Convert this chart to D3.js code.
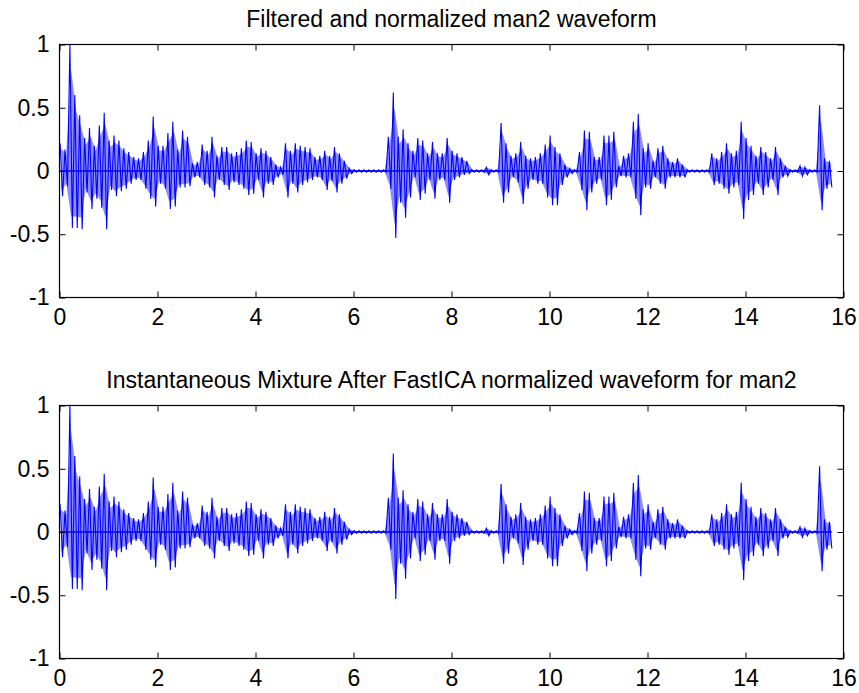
<!DOCTYPE html>
<html>
<head>
<meta charset="utf-8">
<script src="https://cdn.jsdelivr.net/npm/d3@7"></script>
<style>
  html, body { margin: 0; padding: 0; background: #fff; }
  svg { display: block; }
  text { font-family: "Liberation Sans", Arial, Helvetica, sans-serif; fill: #000; }
</style>
</head>
<body>
<svg id="chart" width="859" height="693"></svg>
<script>
// ---- data ----
const titles = [
  "Filtered and normalized man2 waveform",
  "Instantaneous Mixture After FastICA normalized waveform for man2"
];
const xTicks = [0, 2, 4, 6, 8, 10, 12, 14, 16];
const yTicks = [-1, -0.5, 0, 0.5, 1];
const yTickLabels = ["-1", "-0.5", "0", "0.5", "1"];
const binSeconds = 0.1; // each envelope bin covers 0.1 s
// upper envelope per 0.1 s bin (0.0 .. 15.7 s)
const envHigh = [
  0.22, 0.17, 1.00, 0.60, 0.44, 0.26, 0.34, 0.20, 0.36, 0.46,
  0.24, 0.28, 0.24, 0.18, 0.15, 0.11, 0.10, 0.15, 0.24, 0.43,
  0.20, 0.20, 0.30, 0.39, 0.17, 0.32, 0.27, 0.06, 0.07, 0.21,
  0.16, 0.27, 0.12, 0.19, 0.19, 0.14, 0.15, 0.18, 0.24, 0.23,
  0.14, 0.18, 0.16, 0.11, 0.05, 0.03, 0.22, 0.16, 0.22, 0.20,
  0.19, 0.18, 0.11, 0.12, 0.16, 0.12, 0.19, 0.14, 0.08, 0.02,
  0.01, 0.01, 0.01, 0.01, 0.01, 0.01, 0.01, 0.27, 0.62, 0.27,
  0.33, 0.22, 0.16, 0.26, 0.24, 0.14, 0.23, 0.14, 0.14, 0.26,
  0.16, 0.14, 0.11, 0.08, 0.01, 0.01, 0.01, 0.03, 0.01, 0.01,
  0.38, 0.22, 0.12, 0.14, 0.23, 0.12, 0.10, 0.11, 0.14, 0.21,
  0.28, 0.19, 0.14, 0.05, 0.02, 0.01, 0.15, 0.32, 0.31, 0.11,
  0.11, 0.28, 0.28, 0.31, 0.04, 0.12, 0.14, 0.39, 0.45, 0.18,
  0.22, 0.08, 0.18, 0.20, 0.10, 0.07, 0.10, 0.05, 0.01, 0.01,
  0.01, 0.01, 0.01, 0.14, 0.10, 0.15, 0.22, 0.14, 0.16, 0.39,
  0.26, 0.20, 0.12, 0.19, 0.15, 0.10, 0.19, 0.10, 0.04, 0.01,
  0.01, 0.04, 0.03, 0.01, 0.01, 0.52, 0.10, 0.08
];
// lower envelope per 0.1 s bin
const envLow = [
  -0.20, -0.12, -0.45, -0.45, -0.46, -0.17, -0.30, -0.22, -0.29, -0.46,
  -0.15, -0.20, -0.16, -0.14, -0.10, -0.07, -0.07, -0.14, -0.22, -0.28,
  -0.10, -0.14, -0.30, -0.28, -0.13, -0.13, -0.12, -0.05, -0.05, -0.11,
  -0.13, -0.21, -0.07, -0.11, -0.15, -0.09, -0.11, -0.14, -0.19, -0.18,
  -0.07, -0.21, -0.10, -0.11, -0.05, -0.03, -0.21, -0.10, -0.17, -0.11,
  -0.09, -0.07, -0.05, -0.07, -0.15, -0.08, -0.17, -0.10, -0.06, -0.02,
  -0.01, -0.01, -0.01, -0.01, -0.01, -0.01, -0.01, -0.14, -0.53, -0.25,
  -0.37, -0.21, -0.05, -0.23, -0.18, -0.07, -0.22, -0.07, -0.07, -0.25,
  -0.07, -0.05, -0.03, -0.02, -0.01, -0.01, -0.01, -0.03, -0.01, -0.01,
  -0.25, -0.17, -0.05, -0.09, -0.26, -0.14, -0.07, -0.10, -0.10, -0.21,
  -0.27, -0.27, -0.11, -0.05, -0.02, -0.01, -0.15, -0.31, -0.17, -0.10,
  -0.07, -0.27, -0.23, -0.13, -0.04, -0.05, -0.05, -0.22, -0.35, -0.13,
  -0.14, -0.05, -0.10, -0.14, -0.05, -0.05, -0.05, -0.05, -0.01, -0.01,
  -0.01, -0.01, -0.01, -0.11, -0.10, -0.14, -0.18, -0.13, -0.11, -0.38,
  -0.23, -0.19, -0.10, -0.19, -0.13, -0.07, -0.19, -0.05, -0.04, -0.01,
  -0.01, -0.04, -0.03, -0.01, -0.01, -0.31, -0.14, -0.13
];

// ---- layout ----
const svg = d3.select("#chart");
svg.append("rect").attr("width", 859).attr("height", 693).attr("fill", "#fff");

const left = 59.5, right = 843.5;
const panels = [
  { top: 44.5, bottom: 297.5, title: titles[0] },
  { top: 405.5, bottom: 658.5, title: titles[1] }
];

// waveform points: each bin goes to its high then its low
const wavePoints = [];
envHigh.forEach((h, i) => {
  const t = i * binSeconds;
  wavePoints.push([t + 0.0125, h]);
  wavePoints.push([t + 0.0625, envLow[i]]);
});
const envBins = envHigh.map((h, i) => ({ t: i * binSeconds + 0.0375, hi: h * 0.8, lo: envLow[i] * 0.8 }));

panels.forEach((p, k) => {
  const x = d3.scaleLinear().domain([0, 16]).range([left, right]);
  const y = d3.scaleLinear().domain([-1, 1]).range([p.bottom, p.top]);
  const g = svg.append("g");

  const clipId = "clip" + k;
  svg.append("clipPath").attr("id", clipId)
    .append("rect").attr("x", left).attr("y", p.top)
    .attr("width", right - left).attr("height", p.bottom - p.top);

  const wg = g.append("g").attr("clip-path", `url(#${clipId})`);

  // light envelope fill (anti-aliased look of the dense samples)
  const area = d3.area().x(d => x(d.t)).y0(d => y(d.lo)).y1(d => y(d.hi));
  wg.append("path")
    .attr("d", area(envBins))
    .attr("fill", "#0000ff")
    .attr("fill-opacity", 0.45)
    .attr("stroke", "none");

  // waveform
  const line = d3.line().x(d => x(d[0])).y(d => y(d[1]));
  wg.append("path")
    .attr("d", line(wavePoints))
    .attr("fill", "none")
    .attr("stroke", "#0000ff")
    .attr("stroke-width", 1.1);

  // zero baseline thickness in quiet passages
  wg.append("line")
    .attr("x1", x(0)).attr("x2", x(wavePoints[wavePoints.length - 1][0]))
    .attr("y1", y(0)).attr("y2", y(0))
    .attr("stroke", "#0000ff").attr("stroke-width", 1.5);

  // axes (inward ticks, MATLAB box style)
  const tickLen = 6;
  const axB = d3.axisBottom(x).tickValues(xTicks).tickSizeInner(-tickLen).tickSizeOuter(0)
    .tickPadding(11).tickFormat(d3.format("d"));
  const axT = d3.axisTop(x).tickValues(xTicks).tickSizeInner(-tickLen).tickSizeOuter(0).tickFormat("");
  const axL = d3.axisLeft(y).tickValues(yTicks).tickSizeInner(-tickLen).tickSizeOuter(0)
    .tickPadding(10).tickFormat((d, i) => yTickLabels[i]);
  const axR = d3.axisRight(y).tickValues(yTicks).tickSizeInner(-tickLen).tickSizeOuter(0).tickFormat("");

  const gB = g.append("g").attr("transform", `translate(0,${p.bottom})`).call(axB);
  const gT = g.append("g").attr("transform", `translate(0,${p.top})`).call(axT);
  const gL = g.append("g").attr("transform", `translate(${left},0)`).call(axL);
  const gR = g.append("g").attr("transform", `translate(${right},0)`).call(axR);

  [gB, gT, gL, gR].forEach(a => {
    a.select(".domain").remove();
    a.selectAll(".tick line").attr("stroke", "#000").attr("stroke-width", 1);
    a.selectAll("text").attr("font-family", '"Liberation Sans", Arial, sans-serif')
      .attr("font-size", 23).attr("fill", "#000");
  });

  // box
  g.append("rect")
    .attr("x", left).attr("y", p.top)
    .attr("width", right - left).attr("height", p.bottom - p.top)
    .attr("fill", "none").attr("stroke", "#000").attr("stroke-width", 1.2);

  // title
  g.append("text")
    .attr("x", (left + right) / 2)
    .attr("y", p.top - 18)
    .attr("text-anchor", "middle")
    .attr("font-size", 23)
    .text(p.title);
});
</script>
</body>
</html>
